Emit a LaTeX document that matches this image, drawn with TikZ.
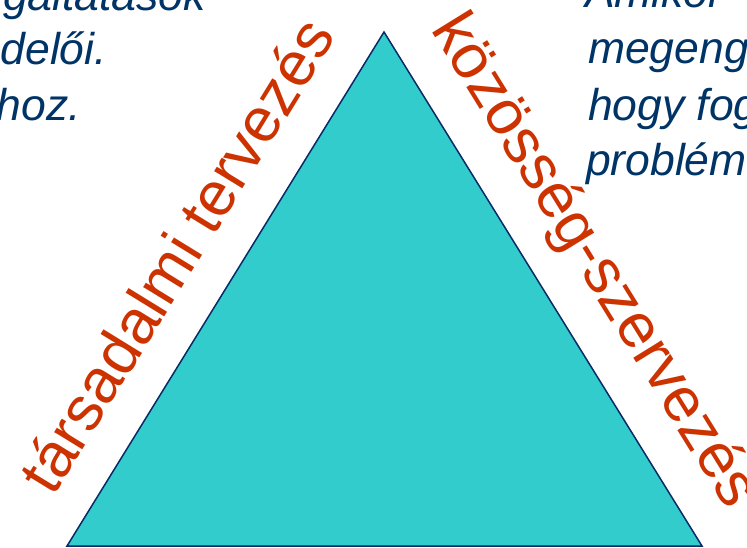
\documentclass[tikz,border=0pt]{standalone}
\usepackage{fontspec}
\setmainfont{Liberation Sans}
\definecolor{navytext}{HTML}{003366}
\definecolor{orangetext}{HTML}{CC3300}
\definecolor{tealfill}{HTML}{33CCCC}
\definecolor{edgenavy}{HTML}{0A2A66}
\begin{document}
\begin{tikzpicture}[x=1pt,y=-1pt,
  bluetext/.style={text=navytext,font=\fontsize{44.5}{52}\selectfont\itshape,inner sep=0pt,outer sep=0pt},
  sidelabel/.style={text=orangetext,font=\fontsize{62.5}{70}\selectfont,inner sep=0pt,outer sep=0pt}]
\useasboundingbox (0,0) rectangle (747,547);
\clip (0,0) rectangle (747,547);
\coordinate (apex) at (384,32);
\coordinate (bl) at (67,546);
\coordinate (br) at (702,546);
\filldraw[fill=tealfill,draw=edgenavy,line width=1.5pt,line join=miter] (apex) -- (br) -- (bl) -- cycle;
% left paragraph (cut off)
\node[bluetext,anchor=base east] (l1) at (206,10) {gáltatások};
\node[bluetext,anchor=base east] (l2) at (107,64) {delői.};
\node[bluetext,anchor=base east] (l3) at (81,120) {hoz.};
% right paragraph (cut off)
\node[bluetext,anchor=base west] (r1) at (585,7) {Amikor};
\node[bluetext,anchor=base west] (r2) at (588,63) {megeng};
\node[bluetext,anchor=base west] (r3) at (588,120) {hogy fog};
\node[bluetext,anchor=base west] (r4) at (586,175) {problém};
% side labels
\coordinate (ls) at (53.3,497.6);
\coordinate (rs) at (430.5,29.1);
\node[sidelabel,anchor=base west,rotate=58.4] (left) at (ls) {társadalmi tervezés};
\node[sidelabel,anchor=base west,rotate=-58.3] (right) at (rs) {közösség-szervezés};
\end{tikzpicture}
\end{document}
